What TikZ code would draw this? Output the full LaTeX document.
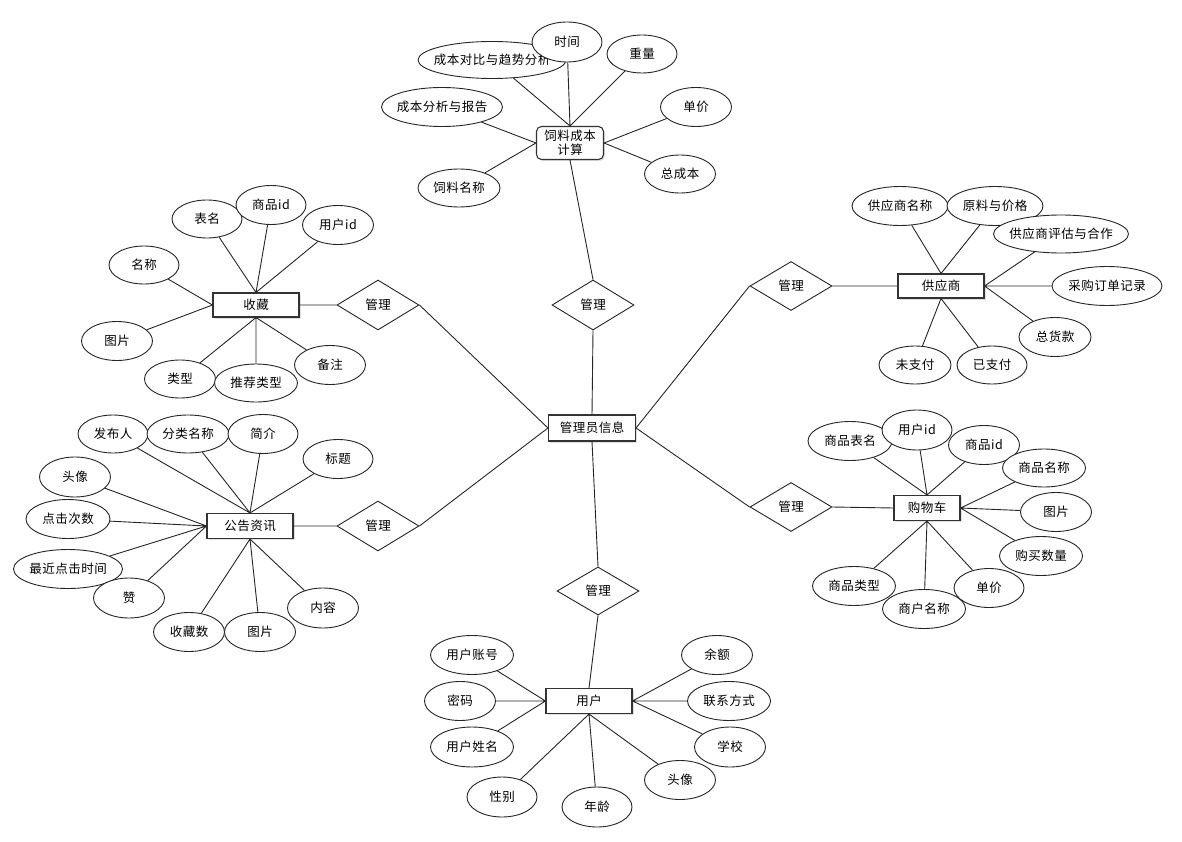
\documentclass[tikz,border=0pt]{standalone}
\usepackage{fontspec}
\newfontfamily\cjk[LetterSpace=4]{Noto Sans CJK SC}
\usetikzlibrary{shapes.geometric,shadows}
\begin{document}
\begin{tikzpicture}[x=1pt,y=-1pt,
 every node/.style={font=\cjk\fontsize{12.5}{13.5}\selectfont, inner sep=1pt},
 attr/.style={ellipse, draw=black!85, fill=white, line width=0.9pt, inner xsep=-12pt, minimum width=71pt, minimum height=39pt},
 ent/.style={rectangle, draw=black!80, fill=white, line width=1.1pt, minimum width=86pt, minimum height=25pt, drop shadow={shadow xshift=1.5pt, shadow yshift=-1.5pt, opacity=0.25}},
 rel/.style={diamond, draw=black!85, fill=white, line width=0.9pt, minimum width=82pt, minimum height=50pt, inner sep=0pt},
 conn/.style={draw=black!85, line width=0.9pt}]
\useasboundingbox (0,0) rectangle (1182,842);

% ---------- central ----------
\node[ent, minimum width=87pt, minimum height=26pt] (admin) at (592,428) {管理员信息};
\node[rel] (m1) at (593,305) {管理};
\node[rel] (mL1) at (378,305) {管理};
\node[rel] (mL2) at (378,526) {管理};
\node[rel, minimum height=48pt] (mB) at (598,591) {管理};
\node[rel, minimum height=49pt] (mR1) at (791,286) {管理};
\node[rel, minimum height=49pt] (mR2) at (791,507) {管理};

% ---------- feed cost ----------
\node[ent, rounded corners=5pt, minimum width=67pt, minimum height=33pt, align=center] (feed) at (570,143) {饲料成本\\计算};
\node[attr, minimum width=148pt, minimum height=37pt] (f1) at (492,60) {成本对比与趋势分析};
\node[attr, minimum width=70pt, minimum height=40pt] (f2) at (567,42) {时间};
\node[attr, minimum width=70pt, minimum height=38pt] (f3) at (642,54) {重量};
\node[attr, minimum width=121pt] (f4) at (442,107) {成本分析与报告};
\node[attr] (f5) at (696,107) {单价};
\node[attr, minimum height=38pt] (f6) at (680,174) {总成本};
\node[attr, minimum width=82pt, minimum height=38pt] (f7) at (459,188) {饲料名称};

% ---------- collection ----------
\node[ent, minimum height=24pt] (col) at (256,305) {收藏};
\node[attr, minimum width=70pt, minimum height=38pt] (c1) at (207,219) {表名};
\node[attr, minimum width=70pt] (c2) at (271,205) {商品id};
\node[attr] (c3) at (338,225) {用户id};
\node[attr, minimum width=70pt, minimum height=38pt] (c4) at (144,265) {名称};
\node[attr] (c5) at (117,341) {图片};
\node[attr, minimum height=38pt] (c6) at (180,379) {类型};
\node[attr, minimum width=83pt, minimum height=38pt] (c7) at (256,383) {推荐类型};
\node[attr] (c8) at (330,365) {备注};

% ---------- announcement ----------
\node[ent] (ann) at (250,526) {公告资讯};
\node[attr, minimum width=70pt, minimum height=38pt] (a1) at (113,434) {发布人};
\node[attr, minimum width=82pt, minimum height=38pt] (a2) at (188,434) {分类名称};
\node[attr, minimum width=70pt] (a3) at (263,434) {简介};
\node[attr, minimum width=70pt] (a4) at (338,459) {标题};
\node[attr, minimum height=40pt] (a5) at (75,477) {头像};
\node[attr, minimum width=84pt] (a6) at (68,519) {点击次数};
\node[attr, minimum width=109pt] (a7) at (68,569) {最近点击时间};
\node[attr, minimum height=40pt] (a8) at (129,598) {赞};
\node[attr] (a9) at (189,632) {收藏数};
\node[attr] (a10) at (260,632) {图片};
\node[attr, minimum height=40pt] (a11) at (323,608) {内容};

% ---------- supplier ----------
\node[ent, minimum height=24pt] (sup) at (941,286) {供应商};
\node[attr, minimum width=96pt] (s1) at (900,206) {供应商名称};
\node[attr, minimum width=96pt] (s2) at (995,206) {原料与价格};
\node[attr, minimum width=135pt, minimum height=38pt] (s3) at (1061,234) {供应商评估与合作};
\node[attr, minimum width=110pt] (s4) at (1107,286) {采购订单记录};
\node[attr, minimum width=72pt] (s5) at (1055,337) {总货款};
\node[attr, minimum width=72pt, minimum height=38pt] (s6) at (915,365) {未支付};
\node[attr, minimum width=70pt, minimum height=38pt] (s7) at (992,365) {已支付};

% ---------- cart ----------
\node[ent, minimum width=66pt] (cart) at (927,508) {购物车};
\node[attr, minimum width=84pt] (k1) at (850,441) {商品表名};
\node[attr, minimum width=70pt, minimum height=40pt] (k2) at (917,430) {用户id};
\node[attr] (k3) at (984,445) {商品id};
\node[attr, minimum width=83pt, minimum height=38pt] (k4) at (1044,468) {商品名称};
\node[attr] (k5) at (1056,512) {图片};
\node[attr, minimum width=83pt] (k6) at (1041,556) {购买数量};
\node[attr, minimum width=83pt] (k9) at (854,586) {商品类型};
\node[attr, minimum width=70pt] (k7) at (989,588) {单价};
\node[attr, minimum width=83pt] (k8) at (924,609) {商户名称};

% ---------- user ----------
\node[ent] (user) at (589,701) {用户};
\node[attr, minimum width=83pt] (u1) at (472,655) {用户账号};
\node[attr] (u2) at (460,701) {密码};
\node[attr, minimum width=83pt, minimum height=40pt] (u3) at (472,747) {用户姓名};
\node[attr, minimum width=70pt, minimum height=40pt] (u4) at (502,797) {性别};
\node[attr, minimum width=70pt, minimum height=40pt] (u5) at (597,807) {年龄};
\node[attr] (u6) at (680,780) {头像};
\node[attr, minimum height=40pt] (u7) at (730,747) {学校};
\node[attr, minimum width=83pt] (u8) at (729,701) {联系方式};
\node[attr] (u9) at (717,655) {余额};

% ---------- connectors ----------
\path[conn] (m1.south) -- (admin.north)
  (mL1.east) -- (admin.west)
  (mL2.east) -- (admin.west)
  (admin.east) -- (mR1.west)
  (admin.east) -- (mR2.west)
  (admin.south) -- (mB.north)
  (feed.south) -- (m1.north)
  (col.east) -- (mL1.west)
  (ann.east) -- (mL2.west)
  (mR1.east) -- (sup.west)
  (mR2.east) -- (cart.west)
  (mB.south) -- (user.north);

\path[conn] (feed.north) -- (f1) (feed.north) -- (f2) (feed.north) -- (f3)
  (feed.east) -- (f5) (feed.east) -- (f6)
  (feed.west) -- (f4) (feed.west) -- (f7);

\path[conn] (col.north) -- (c1) (col.north) -- (c2) (col.north) -- (c3)
  (col.west) -- (c4) (col.west) -- (c5)
  (col.south) -- (c6) (col.south) -- (c7) (col.south) -- (c8);

\path[conn] (ann.north) -- (a1) (ann.north) -- (a2) (ann.north) -- (a3) (ann.north) -- (a4)
  (ann.west) -- (a5) (ann.west) -- (a6) (ann.west) -- (a7) (ann.west) -- (a8)
  (ann.south) -- (a9) (ann.south) -- (a10) (ann.south) -- (a11);

\path[conn] (sup.north) -- (s1) (sup.north) -- (s2)
  (sup.east) -- (s3) (sup.east) -- (s4) (sup.east) -- (s5)
  (sup.south) -- (s6) (sup.south) -- (s7);

\path[conn] (cart.north) -- (k1) (cart.north) -- (k2) (cart.north) -- (k3)
  (cart.east) -- (k4) (cart.east) -- (k5) (cart.east) -- (k6)
  (cart.south) -- (k7) (cart.south) -- (k8) (cart.south) -- (k9);

\path[conn] (user.west) -- (u1) (user.west) -- (u2) (user.west) -- (u3)
  (user.south) -- (u4) (user.south) -- (u5) (user.south) -- (u6)
  (user.east) -- (u7) (user.east) -- (u8) (user.east) -- (u9);
\end{tikzpicture}
\end{document}
